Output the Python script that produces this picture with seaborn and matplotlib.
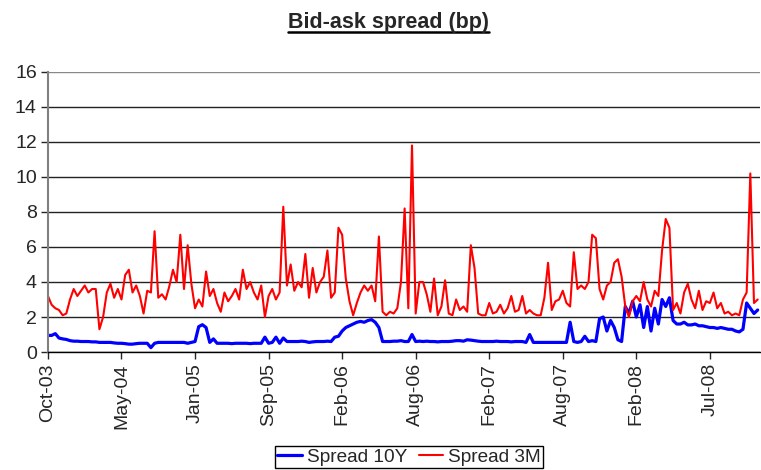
#%%                 Bid-ask spread chart

import numpy as np
import pandas as pd
import seaborn as sns
from matplotlib import pyplot as plt
from matplotlib.lines import Line2D

#Values, 20 samples between each labelled tick
tick_labels = ['Oct-03', 'May-04', 'Jan-05', 'Sep-05', 'Feb-06',
               'Aug-06', 'Feb-07', 'Aug-07', 'Feb-08', 'Jul-08']

#Spread 3M (red)
spread_3m = [
    3.2, 2.7, 2.5, 2.4, 2.1, 2.2, 3.0, 3.6, 3.2, 3.5, 3.8, 3.4, 3.6, 3.6, 1.3, 2.0, 3.4, 3.9, 3.1, 3.6,
    3.0, 4.4, 4.7, 3.4, 3.8, 3.2, 2.2, 3.5, 3.4, 6.9, 3.1, 3.3, 3.0, 3.75, 4.7, 4.0, 6.7, 3.6, 6.1, 3.9,
    2.5, 3.0, 2.6, 4.6, 3.2, 3.6, 2.8, 2.3, 3.4, 2.9, 3.2, 3.6, 3.0, 4.7, 3.6, 4.0, 3.4, 3.0, 3.8, 2.0,
    3.2, 3.6, 3.0, 3.4, 8.3, 3.8, 5.0, 3.5, 4.0, 3.7, 5.6, 3.1, 4.8, 3.4, 4.0, 4.3, 5.8, 3.1, 3.4, 7.1,
    6.7, 4.2, 2.9, 2.1, 2.8, 3.4, 3.8, 3.5, 3.8, 2.9, 6.6, 2.3, 2.1, 2.3, 2.2, 2.5, 4.0, 8.2, 2.5, 11.8,
    2.2, 4.0, 4.0, 3.3, 2.3, 4.2, 2.1, 2.6, 4.1, 2.2, 2.1, 3.0, 2.4, 2.6, 2.3, 6.1, 4.8, 2.2, 2.1, 2.1,
    2.8, 2.2, 2.3, 2.7, 2.2, 2.5, 3.2, 2.3, 2.4, 3.2, 2.2, 2.4, 2.2, 2.1, 2.1, 3.1, 5.1, 2.4, 2.9, 3.0,
    3.5, 2.8, 2.6, 5.7, 3.6, 3.8, 3.6, 4.0, 6.7, 6.5, 3.6, 3.0, 3.8, 4.0, 5.1, 5.3, 4.3, 2.6, 2.0, 2.9,
    3.2, 2.9, 4.0, 3.0, 2.6, 3.5, 3.2, 5.8, 7.6, 7.1, 2.4, 2.8, 2.2, 3.4, 3.9, 3.0, 2.5, 3.5, 2.4, 2.9,
    2.8, 3.4, 2.5, 2.8, 2.2, 2.3, 2.1, 2.2, 2.1, 3.0, 3.4, 10.2, 2.8, 3.0,
]

#Spread 10Y (blue)
spread_10y = [
    0.95, 0.95, 1.05, 0.8, 0.75, 0.72, 0.65, 0.62, 0.62, 0.6, 0.6, 0.6, 0.58, 0.58, 0.55, 0.55, 0.55, 0.55, 0.52, 0.5,
    0.5, 0.48, 0.45, 0.45, 0.48, 0.5, 0.5, 0.5, 0.25, 0.5, 0.55, 0.55, 0.55, 0.55, 0.55, 0.55, 0.55, 0.55, 0.5, 0.55,
    0.6, 1.45, 1.56, 1.4, 0.55, 0.75, 0.5, 0.5, 0.5, 0.5, 0.48, 0.5, 0.5, 0.5, 0.5, 0.48, 0.5, 0.5, 0.5, 0.85,
    0.5, 0.55, 0.85, 0.5, 0.8, 0.6, 0.6, 0.6, 0.6, 0.62, 0.6, 0.55, 0.58, 0.6, 0.6, 0.6, 0.62, 0.6, 0.85, 0.9,
    1.2, 1.4, 1.5, 1.6, 1.7, 1.75, 1.7, 1.8, 1.85, 1.7, 1.4, 0.6, 0.6, 0.6, 0.62, 0.62, 0.65, 0.6, 0.6, 1.0,
    0.6, 0.62, 0.6, 0.62, 0.6, 0.6, 0.58, 0.6, 0.6, 0.6, 0.62, 0.65, 0.65, 0.62, 0.7, 0.68, 0.65, 0.62, 0.6, 0.6,
    0.6, 0.6, 0.62, 0.6, 0.6, 0.6, 0.58, 0.6, 0.6, 0.6, 0.55, 1.0, 0.55, 0.55, 0.55, 0.55, 0.55, 0.55, 0.55, 0.55,
    0.55, 0.55, 1.7, 0.6, 0.55, 0.6, 0.9, 0.6, 0.65, 0.6, 1.9, 2.0, 1.2, 1.8, 1.4, 0.7, 0.6, 2.6, 2.2, 2.9,
    2.0, 2.7, 1.4, 2.6, 1.2, 2.5, 1.6, 3.0, 2.6, 3.1, 1.8, 1.6, 1.6, 1.7, 1.55, 1.55, 1.6, 1.5, 1.5, 1.45,
    1.4, 1.4, 1.35, 1.4, 1.35, 1.3, 1.3, 1.2, 1.15, 1.3, 2.8, 2.5, 2.2, 2.4,
]

#Long-form dataframe for seaborn (sample number on x)
df = pd.DataFrame({
    'obs': np.concatenate([np.arange(len(spread_10y)), np.arange(len(spread_3m))]),
    'spread': spread_10y + spread_3m,
    'series': ['Spread 10Y'] * len(spread_10y) + ['Spread 3M'] * len(spread_3m),
})

sns.set_style('white')
plt.rcParams['font.family'] = ['Liberation Sans', 'DejaVu Sans']

fig = plt.figure(figsize=(7.61, 4.70), dpi=100)
ax = fig.add_axes([0.063, 0.251, 0.936, 0.596])

sns.lineplot(data=df, x='obs', y='spread', hue='series',
             palette={'Spread 10Y': '#0000FF', 'Spread 3M': '#FF0000'},
             size='series', sizes={'Spread 10Y': 2.3, 'Spread 3M': 1.5},
             ax=ax, legend=False)

#Axis setup: Excel style category axis
ax.set_xlim(0, len(spread_3m) - 0.3)
ax.set_ylim(0, 16)
ax.set_yticks(range(0, 17, 2))
ax.set_xticks(range(0, 20 * len(tick_labels), 20))
ax.set_xticklabels(tick_labels, rotation=90, fontsize=14)
ax.tick_params(axis='y', labelsize=14, length=5, width=1, direction='out', left=True, pad=3)
ax.tick_params(axis='x', length=5, width=1, direction='out', bottom=True, pad=3)
ax.set_xlabel('')
ax.set_ylabel('')

ax.grid(axis='y', color='#222222', linewidth=1)
ax.set_axisbelow(True)
ax.get_ygridlines()[-1].set_color('#888888')
for s in ['top', 'right']:
    ax.spines[s].set_visible(False)
ax.spines['left'].set_color('#808080')
ax.spines['left'].set_linewidth(1.5)
ax.spines['bottom'].set_color('black')
ax.spines['bottom'].set_linewidth(1)

#Legend box at the bottom
handles = [Line2D([], [], color='#0000FF', lw=2.3), Line2D([], [], color='#FF0000', lw=1.5)]
fig.legend(handles, ['Spread 10Y', 'Spread 3M'], loc='lower center',
           bbox_to_anchor=(0.5375, 0.0), ncol=2, fontsize=13.7, frameon=True,
           fancybox=False, edgecolor='black', framealpha=1, handlelength=1.3,
           handletextpad=0.25, columnspacing=0.6, borderpad=0.12, borderaxespad=0.1)

#Bold underlined title
t = fig.text(0.51, 0.953, 'Bid-ask spread (bp)', ha='center', va='center',
             fontsize=15.5, fontweight='bold')
fig.canvas.draw()
bb = t.get_window_extent(fig.canvas.get_renderer())
W, H = fig.bbox.width, fig.bbox.height
fig.add_artist(Line2D([bb.x0 / W, bb.x1 / W], [(bb.y0 + 0.5) / H] * 2,
                      transform=fig.transFigure, color='black', lw=1.8))

plt.savefig('out.png', dpi=100)
